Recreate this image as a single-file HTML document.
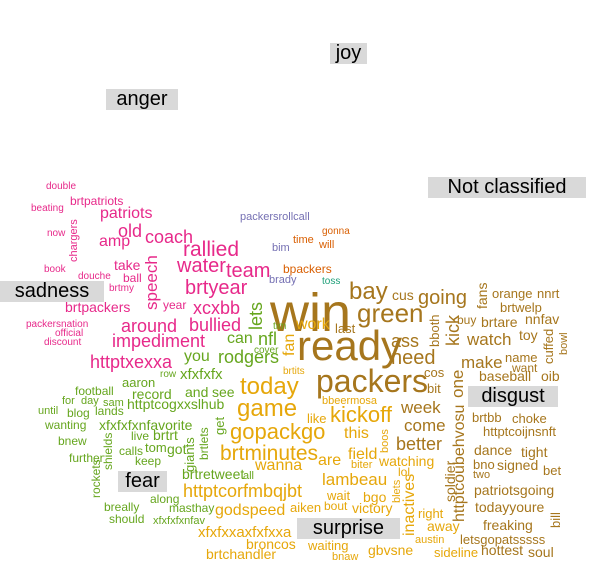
<!DOCTYPE html>
<html><head><meta charset="utf-8">
<style>
html,body{margin:0;padding:0;background:#fff;}
#cloud{position:relative;width:589px;height:583px;overflow:hidden;font-family:"Liberation Sans",sans-serif;}
.w{position:absolute;white-space:nowrap;line-height:1;}
.lab{position:absolute;background:#d9d9d9;color:#000;font-size:20px;line-height:21px;height:21px;text-align:center;white-space:nowrap;}
</style></head>
<body>
<div id="cloud">
<div class="lab" style="left:330px;top:43px;width:37px;">joy</div>
<div class="lab" style="left:106px;top:89px;width:72px;">anger</div>
<div class="lab" style="left:428px;top:177px;width:158px;">Not classified</div>
<div class="lab" style="left:0px;top:281px;width:104px;">sadness</div>
<div class="lab" style="left:468px;top:386px;width:90px;">disgust</div>
<div class="lab" style="left:118px;top:471px;width:49px;">fear</div>
<div class="lab" style="left:297px;top:518px;width:103px;">surprise</div>
</div>
<script>
const colors={P:"#E7298A",G:"#66A61E",Y:"#E6A70A",B:"#A6761D",U:"#7570B3",O:"#D95F02",T:"#1B9E77"};
// [word, x, baselineY (or bottom y for vertical), fontSize, colorKey, vertical]
const words=[
["double",46,190,10,"P",0],["brtpatriots",70,205,12,"P",0],["beating",31,212,10,"P",0],["patriots",100,220,16,"P",0],
["now",47,237,10,"P",0],["chargers",70,262,11,"P",1],["old",118,237,18,"P",0],["coach",145,243,18,"P",0],["amp",99,248,16,"P",0],
["rallied",183,257,21,"P",0],["speech",145,310,17,"P",1],["book",44,273,10,"P",0],["take",114,270,14,"P",0],["water",177,273,20,"P",0],
["team",226,278,20,"P",0],["douche",78,280,10,"P",0],["ball",123,282,12,"P",0],["brtmy",109,292,10,"P",0],["brtyear",185,295,20,"P",0],
["brtpackers",65,312,14,"P",0],["year",163,309,12,"P",0],["xcxbb",193,314,18,"P",0],["packersnation",26,328,10,"P",0],
["around",121,332,18,"P",0],["bullied",189,331,18,"P",0],["official",55,337,10,"P",0],["impediment",112,347,18,"P",0],
["discount",44,346,10,"P",0],["httptxexxa",90,368,18,"P",0],
["lets",249,330,18,"G",1],["tim",273,330,10,"G",0],["can",227,345,16,"G",0],["nfl",258,345,18,"G",0],["cover",254,354,10,"G",0],
["you",184,363,16,"G",0],["rodgers",218,363,18,"G",0],["row",160,378,10,"G",0],["xfxfxfx",180,380,15,"G",0],["aaron",122,387,13,"G",0],
["football",75,395,12,"G",0],["and",185,397,14,"G",0],["see",212,397,14,"G",0],["record",132,399,14,"G",0],["for",62,405,11,"G",0],
["day",81,405,11,"G",0],["sam",103,407,11,"G",0],["httptcogxxslhub",127,409,14,"G",0],["until",38,415,11,"G",0],["blog",67,417,12,"G",0],
["lands",95,415,12,"G",0],["get",214,435,13,"G",1],["wanting",45,429,12,"G",0],["xfxfxfxnfavorite",99,430,14,"G",0],
["shields",103,470,12,"G",1],["live",131,440,12,"G",0],["brtrt",153,440,14,"G",0],["brtlets",199,460,12,"G",1],["giants",184,472,13,"G",1],
["bnew",58,445,12,"G",0],["calls",119,455,12,"G",0],["tom",145,452,13,"G",0],["got",167,454,14,"G",0],["further",69,462,12,"G",0],
["keep",135,465,12,"G",0],["rockets",91,498,12,"G",1],["brtretweet",182,479,14,"G",0],["all",243,480,11,"G",0],["along",150,503,12,"G",0],
["breally",104,511,12,"G",0],["masthay",169,512,12,"G",0],["should",109,523,12,"G",0],["xfxfxfxnfav",153,525,11,"G",0],
["fan",284,356,16,"Y",1],["work",296,331,16,"Y",0],["brtits",283,375,10,"Y",0],["today",240,395,24,"Y",0],["bbeermosa",322,405,11,"Y",0],
["like",307,423,13,"Y",0],["kickoff",330,423,22,"Y",0],["game",237,417,24,"Y",0],["gopackgo",230,440,22,"Y",0],["this",344,440,16,"Y",0],
["boos",381,453,11,"Y",1],["brtminutes",220,461,21,"Y",0],["are",318,467,16,"Y",0],["field",348,461,16,"Y",0],["biter",351,469,11,"Y",0],
["watching",379,466,14,"Y",0],["wanna",255,472,16,"Y",0],["httptcorfmbqjbt",183,497,18,"Y",0],["lambeau",322,485,17,"Y",0],
["lol",398,476,12,"Y",0],["blets",393,503,11,"Y",1],["inactives",404,536,16,"Y",1],["wait",327,500,13,"Y",0],["bgo",363,502,14,"Y",0],
["aiken",290,512,13,"Y",0],["bout",324,510,12,"Y",0],["victory",352,513,14,"Y",0],["right",418,518,13,"Y",0],["godspeed",215,517,16,"Y",0],
["away",427,531,14,"Y",0],["xfxfxxaxfxfxxa",198,538,15,"Y",0],["waiting",308,550,13,"Y",0],["austin",415,544,11,"Y",0],
["broncos",246,549,14,"Y",0],["brtchandler",206,559,14,"Y",0],["bnaw",332,561,11,"Y",0],["gbvsne",368,555,14,"Y",0],["sideline",434,557,13,"Y",0],
["win",270,332,54,"B",0],["bay",349,300,24,"B",0],["cus",392,300,14,"B",0],["going",418,305,20,"B",0],["fans",476,309,14,"B",1],
["orange",492,298,13,"B",0],["nnrt",537,298,13,"B",0],["brtwelp",500,312,13,"B",0],["green",357,322,26,"B",0],["bboth",429,347,13,"B",1],
["kick",446,346,18,"B",1],["buy",457,324,12,"B",0],["brtare",481,327,14,"B",0],["nnfav",525,324,14,"B",0],["last",335,333,13,"B",0],
["ready",297,361,42,"B",0],["ass",391,347,18,"B",0],["watch",467,345,17,"B",0],["toy",519,340,14,"B",0],["cuffed",543,364,13,"B",1],
["bowl",560,355,11,"B",1],["need",391,365,20,"B",0],["make",461,368,17,"B",0],["name",505,362,13,"B",0],["want",512,372,12,"B",0],
["packers",316,392,32,"B",0],["cos",424,377,13,"B",0],["one",451,398,17,"B",1],["baseball",479,381,14,"B",0],["oib",541,381,14,"B",0],
["bit",427,393,13,"B",0],["week",401,413,17,"B",0],["come",404,431,17,"B",0],["better",396,450,18,"B",0],["httptcoubehvosu",454,522,16,"B",1],
["soldier",444,502,14,"B",1],["brtbb",472,422,13,"B",0],["choke",512,423,13,"B",0],["httptcoijnsnft",483,436,13,"B",0],["dance",474,455,14,"B",0],
["tight",521,457,14,"B",0],["bno",473,469,13,"B",0],["signed",497,470,14,"B",0],["two",473,479,11,"B",0],["bet",543,475,13,"B",0],
["patriotsgoing",474,495,14,"B",0],["todayyoure",475,512,14,"B",0],["bill",550,528,13,"B",1],["freaking",483,530,14,"B",0],
["letsgopatsssss",460,544,13,"B",0],["hottest",481,555,14,"B",0],["soul",528,557,14,"B",0],
["packersrollcall",240,221,11,"U",0],["bim",272,252,11,"U",0],["brady",269,284,11,"U",0],
["gonna",322,235,10,"O",0],["time",293,244,11,"O",0],["will",319,249,11,"O",0],["bpackers",283,273,12,"O",0],
["toss",322,285,10,"T",0]
];
const cloud=document.getElementById('cloud');
for(const w of words){
  const el=document.createElement('div');
  el.className='w';
  el.textContent=w[0];
  
  
  el.style.fontSize=w[3]+'px';
  el.style.color=colors[w[4]];
  if(w[5]){
    el.style.left=(w[1]-0.1*w[3])+'px';
    el.style.top=w[2]+'px';
    el.style.transformOrigin='0 0';
    el.style.transform='rotate(-90deg)';
  } else {
    el.style.left=w[1]+'px';
    el.style.top=(w[2]-0.85*w[3])+'px';
  }
  cloud.insertBefore(el, cloud.firstChild);
}
</script>
</body></html>
